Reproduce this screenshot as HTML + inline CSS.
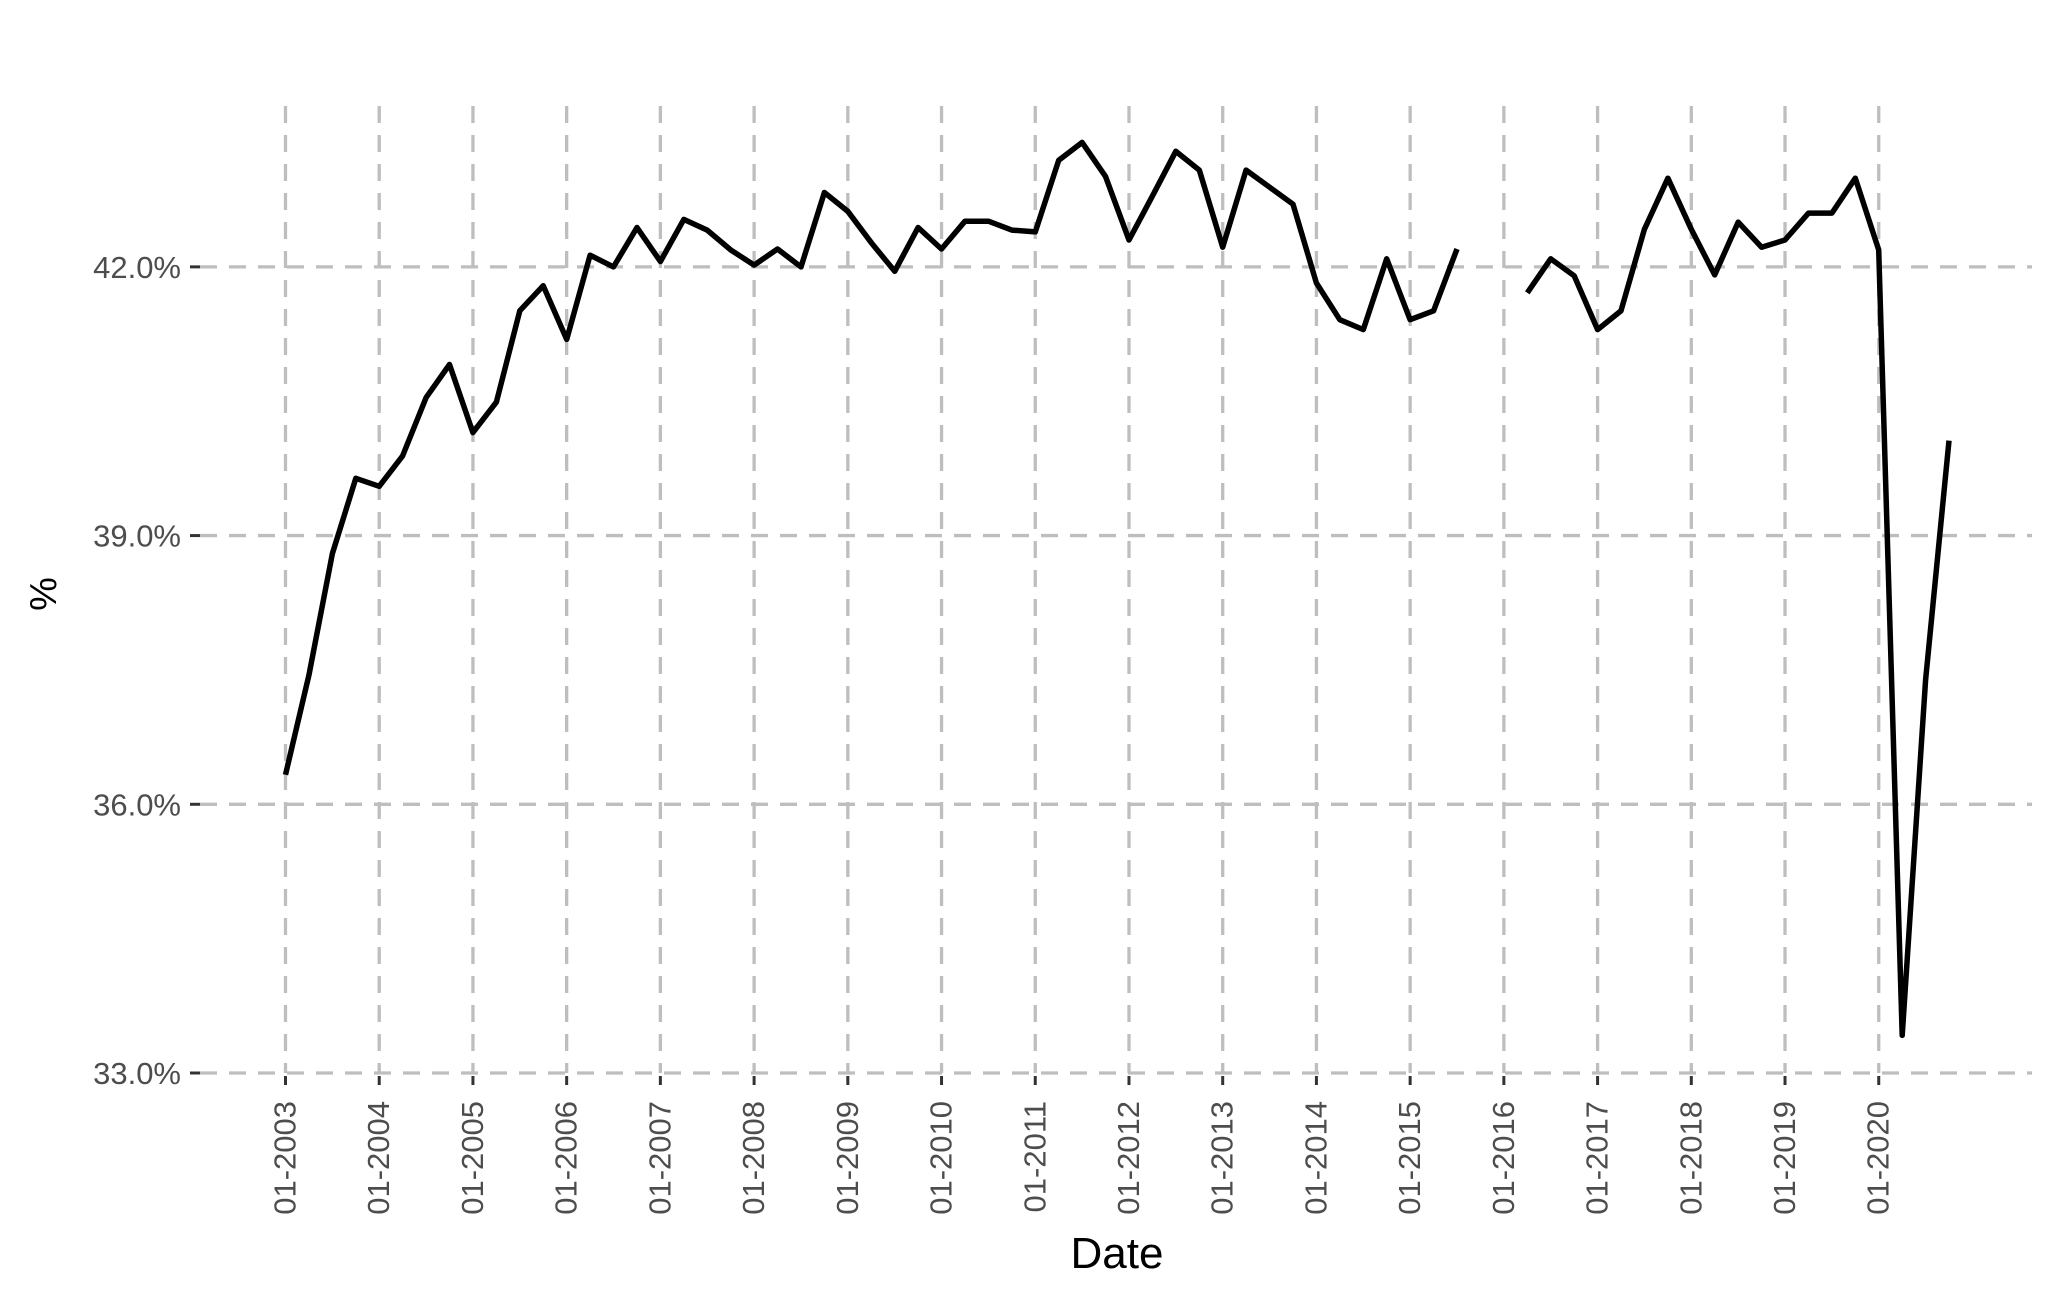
<!DOCTYPE html>
<html><head><meta charset="utf-8"><style>
html,body{margin:0;padding:0;background:#fff;}
svg{display:block;font-family:"Liberation Sans",Arial,sans-serif;}
</style></head><body>
<svg id="chart" width="2055" height="1299" viewBox="0 0 2055 1299" xmlns="http://www.w3.org/2000/svg">
<rect width="2055" height="1299" fill="#fff"/>
<g id="grid"></g>
<g id="axes"></g>
<path id="line" fill="none" stroke="#000" stroke-width="5.5" stroke-linejoin="round"/>
<text x="1117" y="1268" font-size="44" text-anchor="middle" fill="#000">Date</text>
<text transform="translate(56,594) rotate(-90)" font-size="38" text-anchor="middle" fill="#000">%</text>
</svg>
<script>
const yearLabels = ["01-2003","01-2004","01-2005","01-2006","01-2007","01-2008","01-2009","01-2010","01-2011","01-2012","01-2013","01-2014","01-2015","01-2016","01-2017","01-2018","01-2019","01-2020"];
const yTicks = [33, 36, 39, 42];
const values = [
 36.33,37.44,38.80,39.64, 39.55,39.89,40.54,40.91, 40.15,40.49,41.51,41.79,
 41.19,42.13,42.00,42.44, 42.06,42.53,42.41,42.19, 42.02,42.20,42.00,42.83,
 42.62,42.27,41.95,42.44, 42.20,42.51,42.51,42.41, 42.39,43.19,43.39,43.01,
 42.30,42.79,43.29,43.08, 42.22,43.08,42.89,42.70, 41.82,41.41,41.30,42.09,
 41.41,41.51,42.20,null, null,41.71,42.09,41.90, 41.30,41.51,42.42,42.99,
 42.42,41.91,42.50,42.22, 42.30,42.60,42.60,42.99, 42.19,33.42,37.39,40.06
];
const NS="http://www.w3.org/2000/svg";
const x0=285.5, yearW=93.72, xL=200, xR=2032, yTop=106, yBase=1073;
function xq(i){return x0+i*yearW/4;}
function y(v){return yBase-(v-33)*89.57;}
const grid=document.getElementById('grid'), axes=document.getElementById('axes');
function mk(tag,attrs,parent){const e=document.createElementNS(NS,tag);for(const k in attrs)e.setAttribute(k,attrs[k]);parent.appendChild(e);return e;}
yTicks.forEach(t=>{
 const g=mk('line',{x1:xL,x2:xR,y1:y(t),y2:y(t),stroke:'#bebebe','stroke-width':3.3,'stroke-dasharray':'17 12'},grid);
 
 
 const tk=mk('line',{x1:190,x2:200,y1:y(t),y2:y(t),stroke:'#333','stroke-width':3},axes);
 
 
 const lb=mk('text',{x:181,y:y(t)+11,'font-size':31,'text-anchor':'end',fill:'#4d4d4d'},axes);
 lb.textContent=t.toFixed(1)+'%';
 
 
});
yearLabels.forEach((s,i)=>{
 const xx=x0+i*yearW;
 const g=mk('line',{x1:xx,x2:xx,y1:yTop,y2:yBase,stroke:'#bebebe','stroke-width':3.3,'stroke-dasharray':'17 12'},grid);
 
 
 const tk=mk('line',{x1:xx,x2:xx,y1:yBase+3,y2:yBase+12,stroke:'#333','stroke-width':3},axes);
 
 
 const lb=mk('text',{transform:'translate('+(xx+10)+',1101) rotate(-90)','font-size':31,'text-anchor':'end',fill:'#4d4d4d'},axes);
 lb.textContent=s;
 
 
});
let d='',pen=false;
values.forEach((v,i)=>{
 if(v===null){pen=false;return;}
 d+=(pen?'L':'M')+xq(i).toFixed(1)+' '+y(v).toFixed(1)+' ';pen=true;
});
document.getElementById('line').setAttribute('d',d);
</script>
</body></html>
